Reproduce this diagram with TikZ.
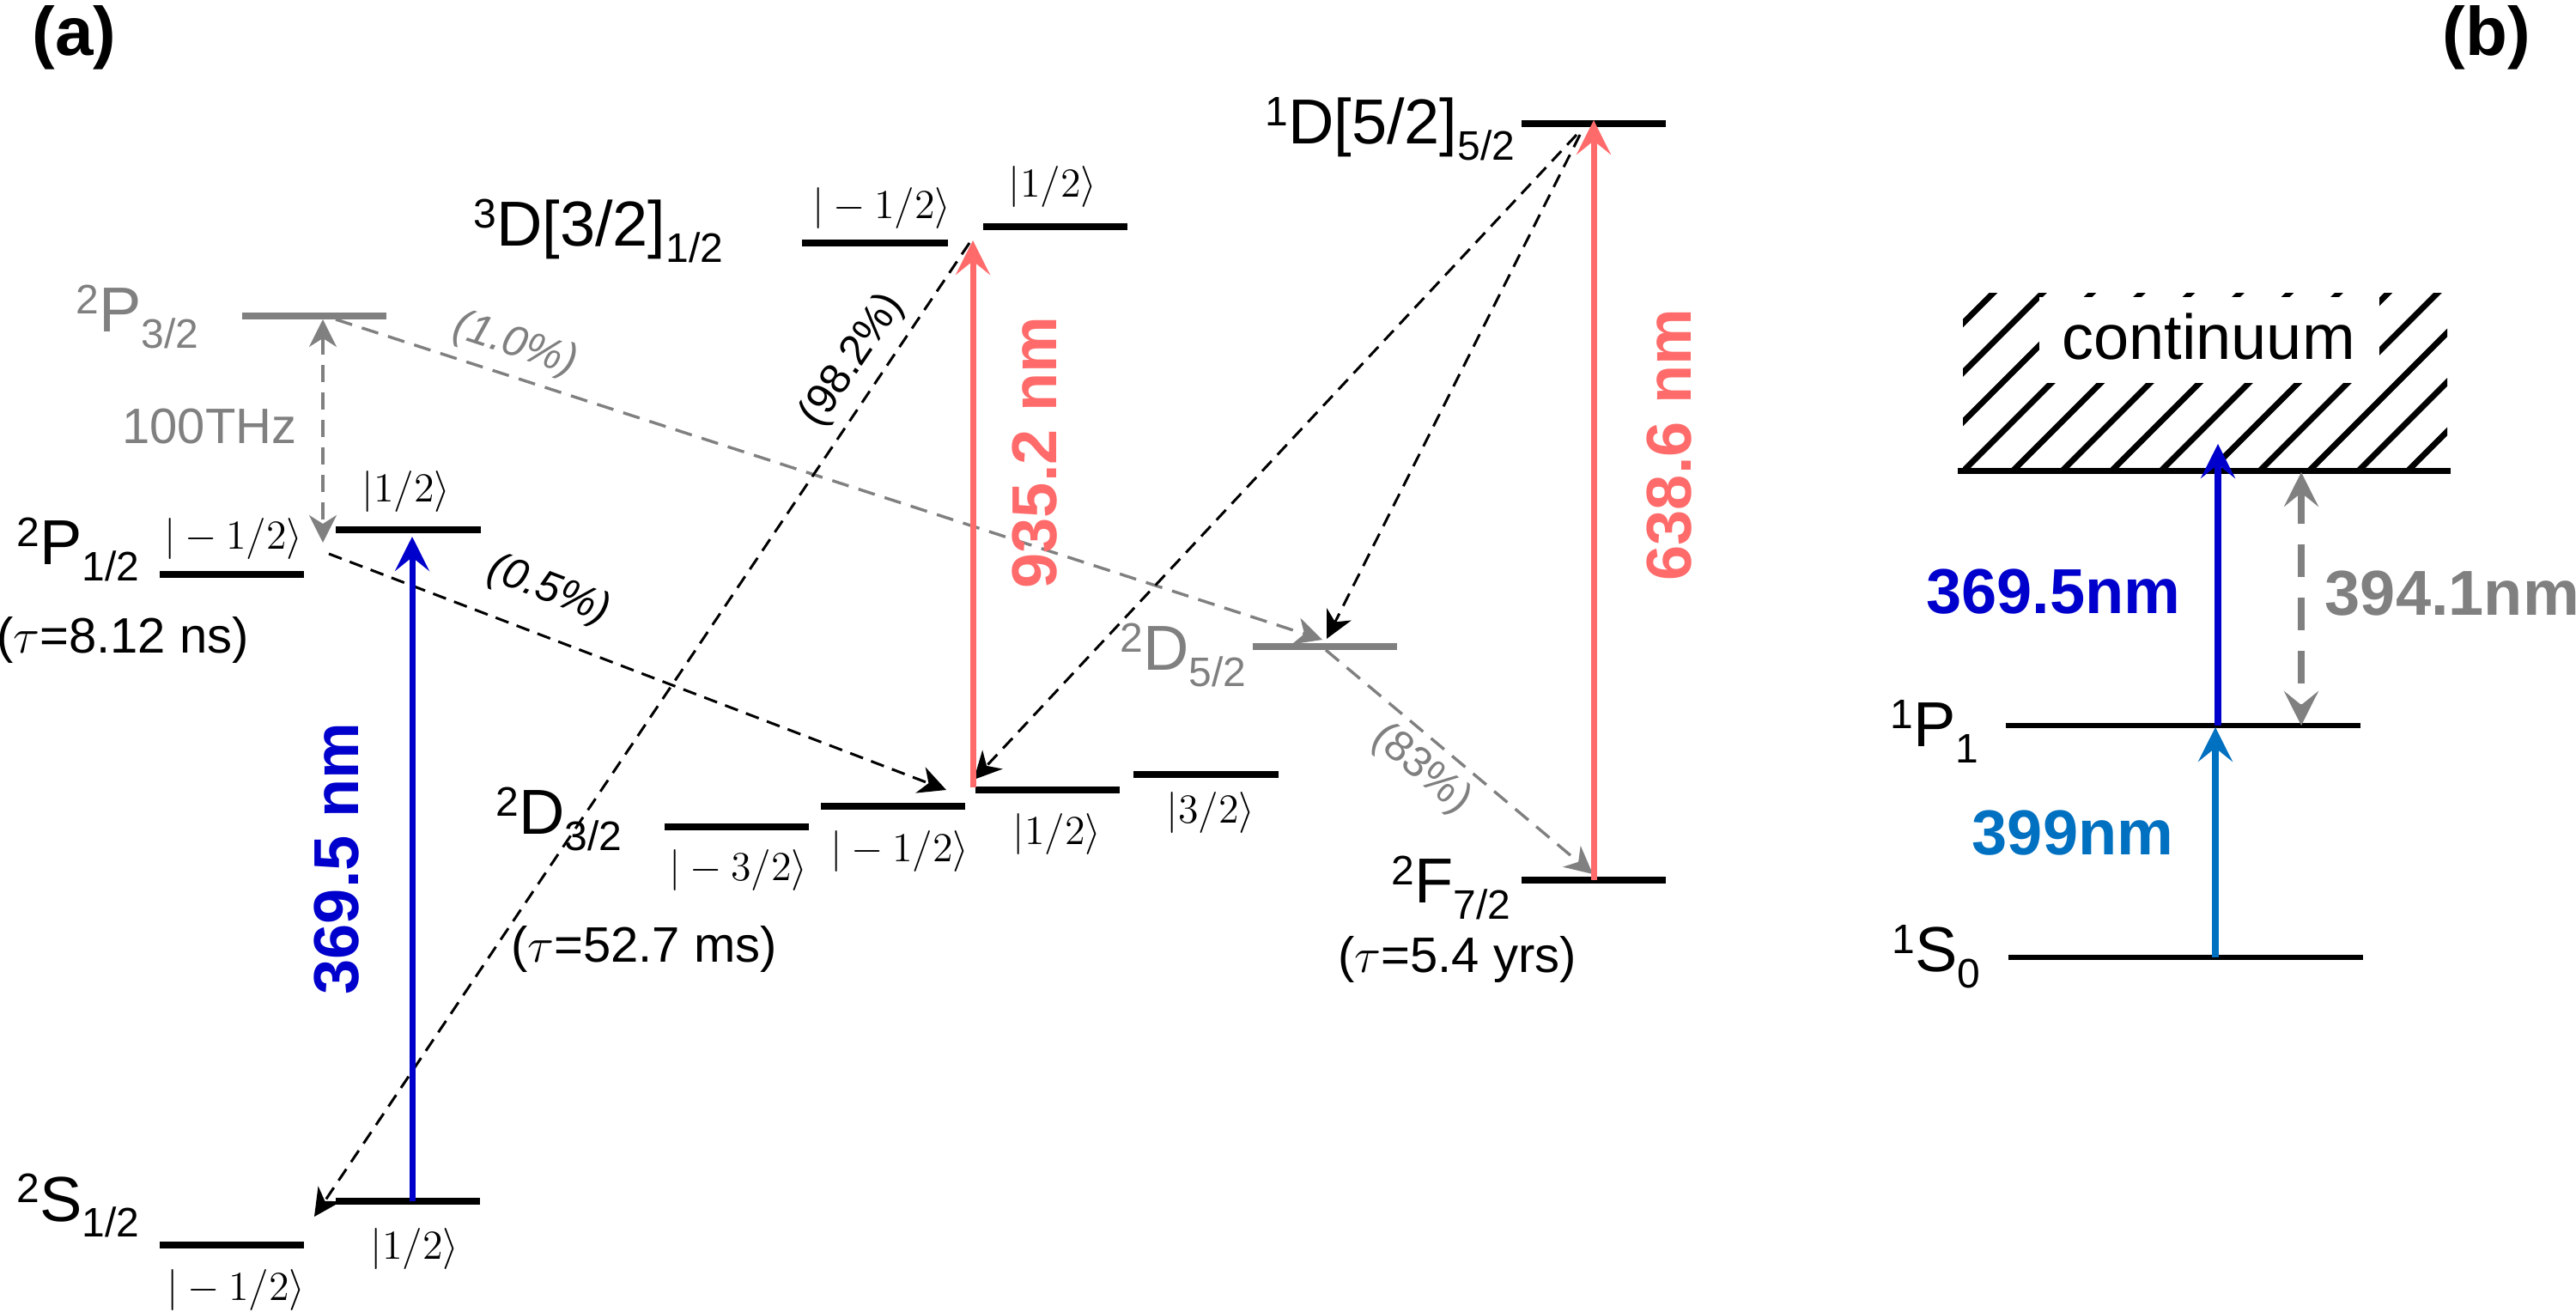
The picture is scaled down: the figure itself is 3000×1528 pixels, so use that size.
\documentclass[tikz,border=0pt]{standalone}
\usepackage{fontspec}
\setmainfont{Liberation Sans}
\usetikzlibrary{arrows.meta}
\definecolor{cblue}{RGB}{0,0,204}
\definecolor{cred}{RGB}{255,107,107}
\definecolor{cgray}{RGB}{128,128,128}
\definecolor{clblue}{RGB}{0,112,192}
\newcommand{\fs}[1]{\fontsize{#1}{#1}\selectfont}
\newcommand{\term}[3]{\raisebox{5.4pt}{\fs{12}#1}#2\raisebox{-4.6pt}{\fs{12}#3}}
\tikzset{
  lvl/.style={line width=2pt},
  lvlb/.style={line width=1.6pt},
  lab/.style={font=\fs{18.5}, inner sep=0pt},
  ket/.style={font=\fs{13}, inner sep=0pt, anchor=base},
  tau/.style={font=\fs{14.5}, inner sep=0pt, anchor=base},
  pct/.style={font=\fs{12.5}, inner sep=0pt},
  pcti/.style={font=\itshape\fs{12.5}, inner sep=0pt},
  nm/.style={font=\bfseries\fs{18.5}, inner sep=0pt},
  decay/.style={line width=0.75pt, dash pattern=on 4pt off 2.5pt, -{Stealth[length=8pt,width=8pt,inset=2.5pt]}},
  decayg/.style={line width=0.85pt, draw=cgray, dash pattern=on 5pt off 3pt, -{Stealth[length=8pt,width=8pt,inset=2.5pt]}},
  laser/.style={line width=1.75pt, -{Stealth[length=10pt,width=10pt,inset=4pt]}},
  gapb/.style={line width=2pt, draw=cgray, dash pattern=on 9.5pt off 6pt, {Stealth[length=10pt,width=10pt,inset=4pt]}-{Stealth[length=10pt,width=10pt,inset=4pt]}},
}
\begin{document}
\begin{tikzpicture}[x=0.25pt,y=-0.25pt]
\useasboundingbox (0,0) rectangle (3000,1528);

% panel labels
\node[font=\bfseries\fs{20},anchor=base west,inner sep=0pt] (pa) at (37,65) {(a)};
\node[font=\bfseries\fs{20},anchor=base west,inner sep=0pt] (pb) at (2844,65) {(b)};

% ---------- panel (a) levels ----------
\draw[lvl] (186,1450) -- (354,1450);
\draw[lvl] (391,1399) -- (559,1399);
\draw[lvl] (186,669) -- (354,669);
\draw[lvl] (391,617) -- (560,617);
\draw[lvl,cgray] (282,368) -- (450,368);
\draw[lvl] (934,283) -- (1104,283);
\draw[lvl] (1145,264) -- (1313,264);
\draw[lvl] (774,963) -- (942,963);
\draw[lvl] (956,939) -- (1124,939);
\draw[lvl] (1136,920) -- (1304,920);
\draw[lvl] (1320,902) -- (1489,902);
\draw[lvl,cgray] (1459,753) -- (1627,753);
\draw[lvl] (1772,144) -- (1940,144);
\draw[lvl] (1772,1025) -- (1940,1025);

% term labels
\node[lab,anchor=base east] (lS) at (163,1422) {\term{2}{S}{1/2}};
\node[lab,anchor=base east] (lP1) at (163,658) {\term{2}{P}{1/2}};
\node[lab,anchor=base east,text=cgray] (lP3) at (232,387) {\term{2}{P}{3/2}};
\node[lab,anchor=base east] (l3D) at (843,287) {\term{3}{D[3/2]}{1/2}};
\node[lab,anchor=base east] (lD3) at (725,972) {\term{2}{D}{3/2}};
\node[lab,anchor=base east,text=cgray] (lD5) at (1452,781) {\term{2}{D}{5/2}};
\node[lab,anchor=base east] (l1D) at (1765,168) {\term{1}{D[5/2]}{5/2}};
\node[lab,anchor=base east] (lF) at (1760,1052) {\term{2}{F}{7/2}};

% lifetimes
\node[tau] (tP) at (143,761) {($\tau$=8.12 ns)};
\node[tau] (tD) at (750,1120) {($\tau$=52.7 ms)};
\node[tau] (tF) at (1697,1133) {($\tau$=5.4 yrs)};

% kets
\node[ket] (kS1) at (275,1514) {$|-1/2\rangle$};
\node[ket] (kS2) at (483,1466) {$|1/2\rangle$};
\node[ket] (kP1) at (272,640) {$|-1/2\rangle$};
\node[ket] (kP2) at (473,585) {$|1/2\rangle$};
\node[ket] (kD1) at (860,1026) {$|-3/2\rangle$};
\node[ket] (kD2) at (1048,1004) {$|-1/2\rangle$};
\node[ket] (kD3) at (1231,984) {$|1/2\rangle$};
\node[ket] (kD4) at (1410,959) {$|3/2\rangle$};
\node[ket] (k3D1) at (1027,255) {$|-1/2\rangle$};
\node[ket] (k3D2) at (1226,230) {$|1/2\rangle$};

% connector end points
\coordinate (bA0) at (480,1399);
\coordinate (bA1) at (480,625);
\coordinate (rA0) at (1133,917);
\coordinate (rA1) at (1133,280);
\coordinate (rB0) at (1856,1025);
\coordinate (rB1) at (1856,140);
\coordinate (d1s) at (1129,283);
\coordinate (d1e) at (366,1417);
\coordinate (d2s) at (383,645);
\coordinate (d2e) at (1102,920);
\coordinate (d3s) at (1836,157);
\coordinate (d3e) at (1134,908);
\coordinate (d4s) at (1840,157);
\coordinate (d4e) at (1545,744);
\coordinate (g1s) at (391,372);
\coordinate (g1e) at (1540,745);
\coordinate (g2s) at (1544,757);
\coordinate (g2e) at (1855,1018);
\coordinate (g3s) at (376,372);
\coordinate (g3e) at (376,632);

% decay lines
\draw[decayg] (g1s) -- (g1e);
\draw[decayg] (g2s) -- (g2e);
\draw[decayg,{Stealth[length=8pt,width=8pt,inset=2.5pt]}-{Stealth[length=8pt,width=8pt,inset=2.5pt]}] (g3s) -- (g3e);
\draw[decay] (d1s) -- (d1e);
\draw[decay] (d2s) -- (d2e);
\draw[decay] (d3s) -- (d3e);
\draw[decay] (d4s) -- (d4e);

% lasers
\draw[laser,cblue] (bA0) -- (bA1);
\draw[laser,cred] (rA0) -- (rA1);
\draw[laser,cred] (rB0) -- (rB1);

% transition labels
\node[font=\fs{14.5},inner sep=0pt,anchor=base,text=cgray] (thz) at (244,517) {100THz};
\node[pcti,text=cgray,rotate=-18] (p10) at (600,402) {(1.0\%)};
\node[pcti,rotate=-21] (p05) at (639,688) {(0.5\%)};
\node[pct,rotate=56] (p98) at (993,420) {(98.2\%)};
\node[pct,text=cgray,rotate=-40] (p83) at (1655,896) {(83\%)};
\node[nm,text=cblue,rotate=90] (n369) at (392,1000) {369.5 nm};
\node[nm,text=cred,rotate=90] (n935) at (1205,527) {935.2 nm};
\node[nm,text=cred,rotate=90] (n638) at (1944,518) {638.6 nm};

% ---------- panel (b) ----------
\begin{scope}
\clip (2286,342) rectangle (2850,549);
\foreach \k in {-4,...,10} \draw[line width=1.7pt] ({2286+\k*57.5},549) -- ++(300,-300);
\end{scope}
\fill[white] (2375,346) rectangle (2771,446);
\node[font=\fs{18.5},inner sep=0pt,anchor=base] (cont) at (2572,419) {continuum};
\draw[line width=1.75pt] (2280,549) -- (2854,549);

\draw[lvlb] (2336,845) -- (2749,845);
\draw[lvlb] (2339,1115) -- (2752,1115);
\node[lab,anchor=base east] (lP1b) at (2305,870) {\term{1}{P}{1}};
\node[lab,anchor=base east] (lS0b) at (2307,1132) {\term{1}{S}{0}};

\coordinate (c1s) at (2583,845);
\coordinate (c1e) at (2583,517);
\coordinate (c2s) at (2580,1115);
\coordinate (c2e) at (2580,847);
\coordinate (c3s) at (2680,550);
\coordinate (c3e) at (2680,845);
\draw[laser,line width=2pt,cblue] (c1s) -- (c1e);
\draw[laser,line width=2pt,clblue] (c2s) -- (c2e);
\draw[gapb] (c3s) -- (c3e);

\node[nm,text=cblue,anchor=base east] (w369) at (2540,715) {369.5nm};
\node[nm,text=clblue,anchor=base east] (w399) at (2532,996) {399nm};
\node[nm,text=cgray,anchor=base west] (w394) at (2707,717) {394.1nm};
\end{tikzpicture}
\end{document}
